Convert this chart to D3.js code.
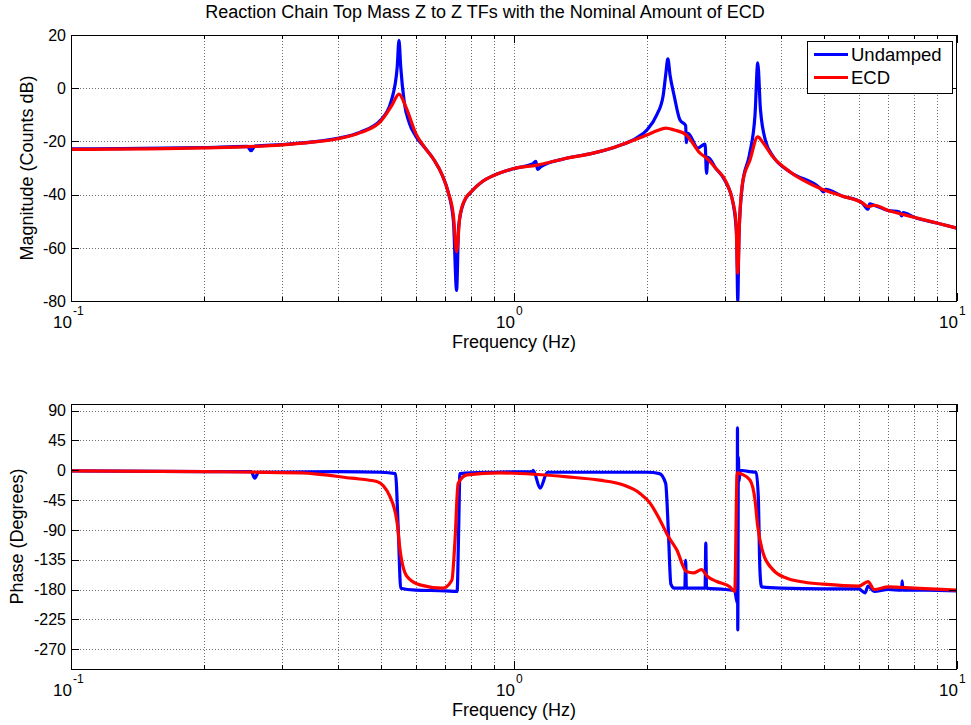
<!DOCTYPE html>
<html>
<head>
<meta charset="utf-8">
<script src="https://cdn.jsdelivr.net/npm/d3@7"></script>
<style>
  html, body { margin: 0; padding: 0; background: #fff; }
  svg { display: block; }
  text { font-family: "Liberation Sans", Arial, sans-serif; fill: #000; }
</style>
</head>
<body>
<svg id="chart" width="971" height="725"></svg>
<script>
// ---------- DATA ----------
const titleText = "Reaction Chain Top Mass Z to Z TFs with the Nominal Amount of ECD";
const seriesNames = ["Undamped", "ECD"];
const xTickExponents = [-1, 0, 1];
const magTicks = [-80, -60, -40, -20, 0, 20];
const phaseTicks = [-270, -225, -180, -135, -90, -45, 0, 45, 90];

const undampedMagFreq = [0.1,0.13,0.2,0.25,0.255,0.26,0.3,0.35,0.4,0.45,0.5,0.53,0.545,0.55,0.555,0.565,0.58,0.6,0.63,0.66,0.69,0.71,0.73,0.742,0.75,0.77,0.8,0.85,0.9,1.0,1.1,1.12,1.13,1.15,1.3,1.5,1.7,1.9,2.0,2.1,2.17,2.2,2.225,2.25,2.3,2.37,2.44,2.45,2.47,2.6,2.7,2.72,2.74,2.85,3.0,3.12,3.18,3.2,3.22,3.28,3.4,3.5,3.55,3.6,3.7,3.84,4.2,4.9,5.0,5.05,5.5,6.1,6.3,6.35,6.5,7.0,7.4,7.5,7.55,8.0,9.0,10];
const undampedMag = [-22.8,-22.7,-22.3,-21.9,-23.5,-21.8,-21.2,-20.2,-18.8,-16.5,-12,-4,8,18,8,-5,-13,-18,-22.5,-27,-33,-39,-50,-76,-52,-43,-39,-35,-32.8,-30.2,-28.5,-27.5,-30.5,-29.5,-26.5,-24.5,-22,-18.5,-15.5,-10,-3,5,11,5,-3,-12,-14,-20.5,-17,-22.5,-21,-32,-26,-30,-35,-43,-55,-80,-55,-36,-25,-10,9.5,-8,-20,-25.5,-31.5,-37.5,-39,-38,-40.5,-43,-45.5,-43.5,-44,-46,-46.5,-48,-46.8,-48.5,-50.7,-52.6];

const ecdMagFreq = [0.1,0.2,0.3,0.35,0.4,0.45,0.5,0.53,0.55,0.57,0.6,0.63,0.66,0.69,0.71,0.73,0.742,0.755,0.78,0.8,0.85,0.9,1.0,1.127,1.3,1.5,1.7,1.9,2.0,2.1,2.2,2.3,2.45,2.63,2.72,2.85,3.02,3.12,3.17,3.2,3.23,3.28,3.41,3.55,3.65,3.84,4.2,4.9,5.5,6.1,6.3,6.5,7.0,8.0,9.0,10];
const ecdMag = [-23,-22.4,-21.3,-20.3,-19,-16.7,-12.5,-6.5,-2.2,-7,-17,-22.5,-27,-33,-39,-48,-61.5,-48,-41,-39,-35,-32.8,-30.2,-28.9,-26.5,-24.5,-22,-19,-17.5,-16,-15,-15.7,-17.6,-24.4,-26.3,-30,-35.6,-42.8,-50,-69.5,-50,-35.6,-27,-18.3,-20.5,-25.8,-31.5,-37.6,-40.5,-43,-44.5,-44,-46,-48.5,-50.7,-52.6];

const undampedPhaseFreq = [0.1,0.2,0.255,0.26,0.265,0.4,0.5,0.54,0.548,0.555,0.6,0.7,0.744,0.75,0.755,0.9,1.1,1.105,1.145,1.19,1.5,2.0,2.13,2.2,2.23,2.26,2.3,2.43,2.44,2.45,2.7,2.71,2.72,3.0,3.15,3.19,3.195,3.2,3.21,3.22,3.24,3.4,3.52,3.56,3.59,3.62,4.0,5.0,6.0,6.2,6.3,6.5,7.0,7.5,7.52,7.55,8.5,10];
const undampedPhase = [-1,-2,-2,-12,-3,-2,-3,-5,-90,-178,-181,-182,-183,-90,-5,-3,-2,0,-27,-3,-3,-3,-5,-20,-90,-172,-178,-178,-136,-178,-178,-110,-178,-180,-182,-200,64,-241,20,-17,0,-2,-3,-40,-150,-176,-178,-179,-179,-185,-175,-183,-180,-181,-167,-181,-181,-182];

const ecdPhaseFreq = [0.1,0.2,0.33,0.43,0.49,0.525,0.545,0.553,0.573,0.613,0.69,0.724,0.736,0.748,0.783,0.93,1.32,1.56,1.76,1.925,2.03,2.135,2.23,2.33,2.45,2.54,2.65,2.73,2.87,3.07,3.15,3.19,3.27,3.41,3.5,3.55,3.65,3.84,4.13,4.42,5.0,6.0,6.3,6.5,7.0,8.0,10];
const ecdPhase = [-1,-2,-4,-12,-17,-40,-80,-120,-160,-173,-178,-166,-105,-20,-7,-4,-10,-15,-22,-35,-50,-75,-100,-120,-153,-155,-150,-160,-168,-176,-183,-4,-6,-15,-45,-85,-125,-150,-163,-168,-172,-175,-168,-180,-176,-178,-181];

// ---------- LAYOUT ----------
const svg = d3.select("#chart");
const plotLeft = 71, plotRight = 957;
const magBox = {top: 35, bottom: 301, labelX: 33};
const phBox = {top: 404, bottom: 669, labelX: 23};
const colors = {Undamped: "#0000ff", ECD: "#ff0000"};
const tickFont = 16, labelFont = 18, titleFont = 18, legendFont = 18.5;

const x = d3.scaleLog().domain([0.1, 10]).range([plotLeft, plotRight]);
const yMag = d3.scaleLinear().domain([-80, 20]).range([magBox.bottom, magBox.top]);
const yPh = d3.scaleLinear().domain([-300, 100]).range([phBox.bottom, phBox.top]);

const minorX = [];
for (let e = -1; e <= 0; e++) {
  for (let m = 2; m <= 9; m++) minorX.push(m * Math.pow(10, e));
}
const majorX = xTickExponents.map(e => Math.pow(10, e));

function drawPanel(box, y, yTicks, yLabel, series, clipId) {
  const g = svg.append("g");
  g.append("rect").attr("x", plotLeft).attr("y", box.top)
    .attr("width", plotRight - plotLeft).attr("height", box.bottom - box.top)
    .attr("fill", "#fff");

  // dotted grid
  const grid = g.append("g").attr("stroke", "#6f6f6f").attr("stroke-width", 1)
    .attr("stroke-dasharray", "1,2").attr("shape-rendering", "crispEdges");
  minorX.concat(majorX).forEach(v => {
    const px = Math.round(x(v)) + 0.5;
    if (px <= plotLeft + 1 || px >= plotRight - 1) return;
    grid.append("line").attr("x1", px).attr("x2", px).attr("y1", box.top).attr("y2", box.bottom);
  });
  yTicks.forEach(v => {
    const py = Math.round(y(v)) + 0.5;
    if (py <= box.top + 1 || py >= box.bottom - 1) return;
    grid.append("line").attr("x1", plotLeft).attr("x2", plotRight).attr("y1", py).attr("y2", py);
  });

  svg.append("clipPath").attr("id", clipId).append("rect")
    .attr("x", plotLeft).attr("y", box.top)
    .attr("width", plotRight - plotLeft).attr("height", box.bottom - box.top);

  const lineGen = d3.line().x(d => x(d[0])).y(d => y(d[1])).curve(d3.curveMonotoneX);
  const lines = g.append("g").attr("clip-path", `url(#${clipId})`);
  series.forEach(s => {
    const pts = s.f.map((f, i) => [f, s.v[i]]);
    lines.append("path").datum(pts).attr("d", lineGen)
      .attr("fill", "none").attr("stroke", colors[s.name])
      .attr("stroke-width", 3.2).attr("stroke-linejoin", "round");
  });

  // box + inward ticks on all sides
  const ax = g.append("g").attr("stroke", "#000").attr("stroke-width", 1).attr("shape-rendering", "crispEdges");
  ax.append("rect").attr("x", plotLeft + 0.5).attr("y", box.top + 0.5)
    .attr("width", plotRight - plotLeft - 1).attr("height", box.bottom - box.top)
    .attr("fill", "none");
  majorX.forEach(v => {
    const px = Math.round(x(v)) + 0.5;
    ax.append("line").attr("x1", px).attr("x2", px).attr("y1", box.bottom).attr("y2", box.bottom - 8);
    ax.append("line").attr("x1", px).attr("x2", px).attr("y1", box.top).attr("y2", box.top + 8);
  });
  minorX.forEach(v => {
    const px = Math.round(x(v)) + 0.5;
    ax.append("line").attr("x1", px).attr("x2", px).attr("y1", box.bottom).attr("y2", box.bottom - 4);
    ax.append("line").attr("x1", px).attr("x2", px).attr("y1", box.top).attr("y2", box.top + 4);
  });
  yTicks.forEach(v => {
    const py = Math.round(y(v)) + 0.5;
    ax.append("line").attr("x1", plotLeft).attr("x2", plotLeft + 8).attr("y1", py).attr("y2", py);
    ax.append("line").attr("x1", plotRight).attr("x2", plotRight - 8).attr("y1", py).attr("y2", py);
  });

  yTicks.forEach(v => {
    g.append("text").attr("x", plotLeft - 5).attr("y", y(v)).attr("dy", "0.36em")
      .attr("text-anchor", "end").attr("font-size", tickFont).text(v);
  });
  xTickExponents.forEach(e => {
    const px = x(Math.pow(10, e));
    g.append("text").attr("font-size", 17).attr("x", px + 1).attr("y", box.bottom + 27)
      .attr("text-anchor", "end").text("10");
    g.append("text").attr("font-size", 12).attr("x", px + 2).attr("y", box.bottom + 14).text(e);
  });
  g.append("text").attr("x", (plotLeft + plotRight) / 2).attr("y", box.bottom + 47)
    .attr("text-anchor", "middle").attr("font-size", labelFont).text("Frequency (Hz)");
  const cy = (box.top + box.bottom) / 2;
  g.append("text").attr("transform", `translate(${box.labelX},${cy}) rotate(-90)`)
    .attr("text-anchor", "middle").attr("font-size", labelFont).text(yLabel);
  return g;
}

drawPanel(magBox, yMag, magTicks, "Magnitude (Counts dB)", [
  {name: "Undamped", f: undampedMagFreq, v: undampedMag},
  {name: "ECD", f: ecdMagFreq, v: ecdMag}
], "clipMag");

drawPanel(phBox, yPh, phaseTicks, "Phase (Degrees)", [
  {name: "Undamped", f: undampedPhaseFreq, v: undampedPhase},
  {name: "ECD", f: ecdPhaseFreq, v: ecdPhase}
], "clipPh");

svg.append("text").attr("x", 485).attr("y", 18)
  .attr("text-anchor", "middle").attr("font-size", titleFont).text(titleText);

// legend
const leg = svg.append("g");
leg.append("rect").attr("x", 807.5).attr("y", 41.5).attr("width", 145).attr("height", 52)
  .attr("fill", "#fff").attr("stroke", "#000").attr("stroke-width", 1);
seriesNames.forEach((n, i) => {
  const ly = 54.5 + i * 23;
  leg.append("line").attr("x1", 814).attr("x2", 848).attr("y1", ly).attr("y2", ly)
    .attr("stroke", colors[n]).attr("stroke-width", 3.2);
  leg.append("text").attr("x", 851).attr("y", ly).attr("dy", "0.36em")
    .attr("font-size", legendFont).text(n);
});
</script>
</body>
</html>
